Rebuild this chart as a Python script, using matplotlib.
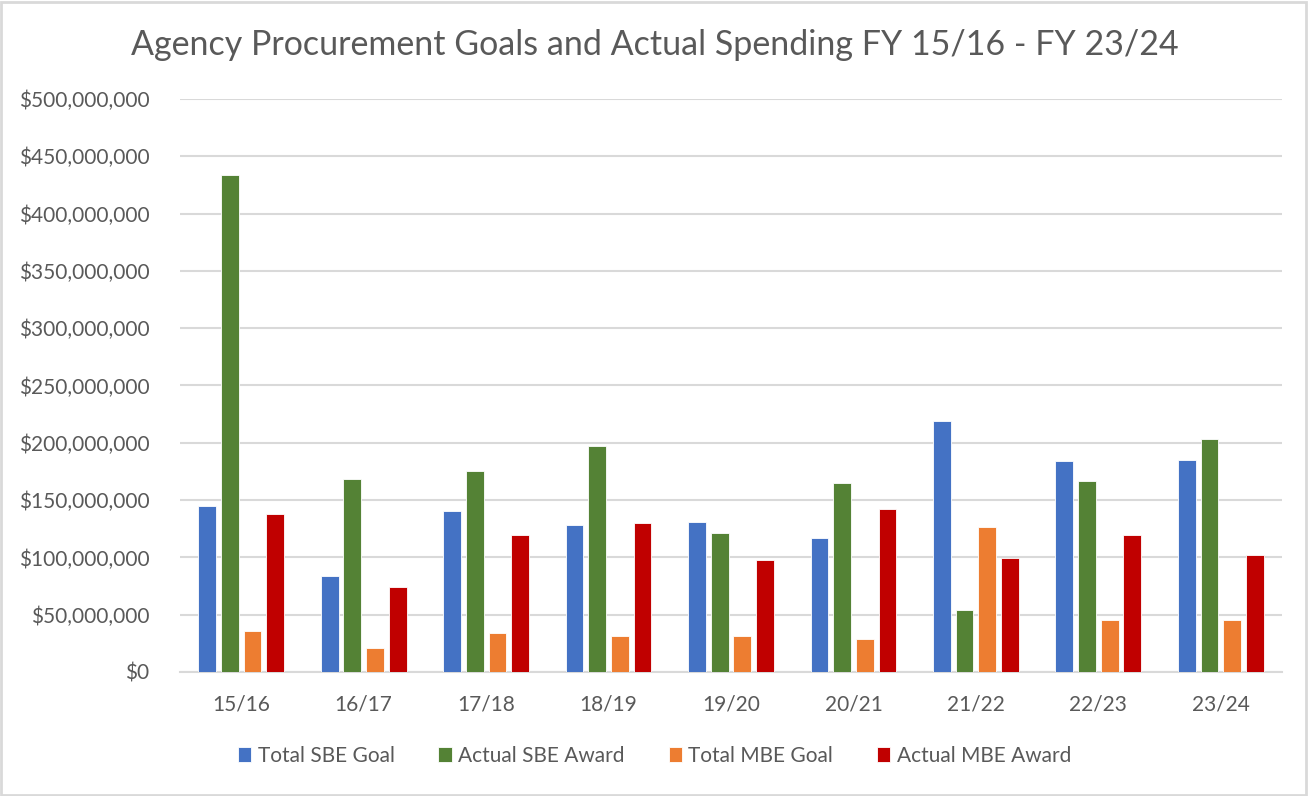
import numpy as np
import matplotlib
matplotlib.use('agg')
import matplotlib.pyplot as plt
from matplotlib.ticker import FuncFormatter
from matplotlib.patches import Rectangle

years = ['15/16', '16/17', '17/18', '18/19', '19/20', '20/21', '21/22', '22/23', '23/24']
sbe_goal = [144.7, 83.4, 140.4, 128.7, 131.3, 117.3, 219.2, 184.3, 185.4]
sbe_award = [434.1, 168.0, 175.5, 197.4, 121.1, 165.3, 54.1, 166.5, 203.5]
mbe_goal = [36.0, 20.9, 33.9, 31.7, 31.4, 28.8, 126.6, 45.1, 45.7]
mbe_award = [137.6, 74.0, 119.4, 130.1, 97.8, 141.8, 99.8, 119.4, 101.9]

series = [
    ('Total SBE Goal', sbe_goal, '#4472C4'),
    ('Actual SBE Award', sbe_award, '#548235'),
    ('Total MBE Goal', mbe_goal, '#ED7D31'),
    ('Actual MBE Award', mbe_award, '#C00000'),
]

plt.rcParams['font.family'] = ['Lato', 'DejaVu Sans']
text_color = '#595959'
grid_color = '#D9D9D9'

fig = plt.figure(figsize=(13.09, 7.96), dpi=100)
ax = fig.add_axes([180 / 1309, 1 - 672 / 796, (1282 - 180) / 1309, (672 - 99) / 796])

x = np.arange(len(years))
pitch = 0.185
width = 0.145
for i, (name, vals, color) in enumerate(series):
    offset = (i - 1.5) * pitch
    ax.bar(x + offset, np.array(vals) * 1e6, width, color=color, label=name,
           edgecolor='white', linewidth=0.6, zorder=3)

ax.set_xlim(-0.5, len(years) - 0.5)
ax.set_ylim(0, 500e6)
ax.set_yticks(np.arange(0, 500e6 + 1, 50e6))
ax.yaxis.set_major_formatter(FuncFormatter(lambda v, p: '${:,.0f}'.format(v)))
ax.set_xticks(x)
ax.set_xticklabels(years)
ax.tick_params(axis='both', length=0, labelsize=15, colors=text_color)
ax.tick_params(axis='y', pad=22)
ax.tick_params(axis='x', pad=16)
ax.grid(axis='y', color=grid_color, linewidth=1.5, zorder=0)
for s in ['top', 'right', 'left']:
    ax.spines[s].set_visible(False)
ax.spines['bottom'].set_color(grid_color)
ax.spines['bottom'].set_linewidth(1.5)

fig.text(0.5, 1 - 45 / 796, 'Agency Procurement Goals and Actual Spending FY 15/16 - FY 23/24',
         ha='center', va='center', fontsize=24.5, color=text_color)

fig.legend(loc='center', bbox_to_anchor=(0.5, 1 - 756 / 796), ncol=4, frameon=False,
           fontsize=15, labelcolor=text_color, handlelength=0.65, handleheight=0.7,
           handletextpad=0.3, columnspacing=2.1)

fig.patches.append(Rectangle((0.001, 0.001), 0.997, 0.997, transform=fig.transFigure,
                             fill=False, edgecolor=grid_color, linewidth=2))

fig.savefig('out.png', dpi=100)
